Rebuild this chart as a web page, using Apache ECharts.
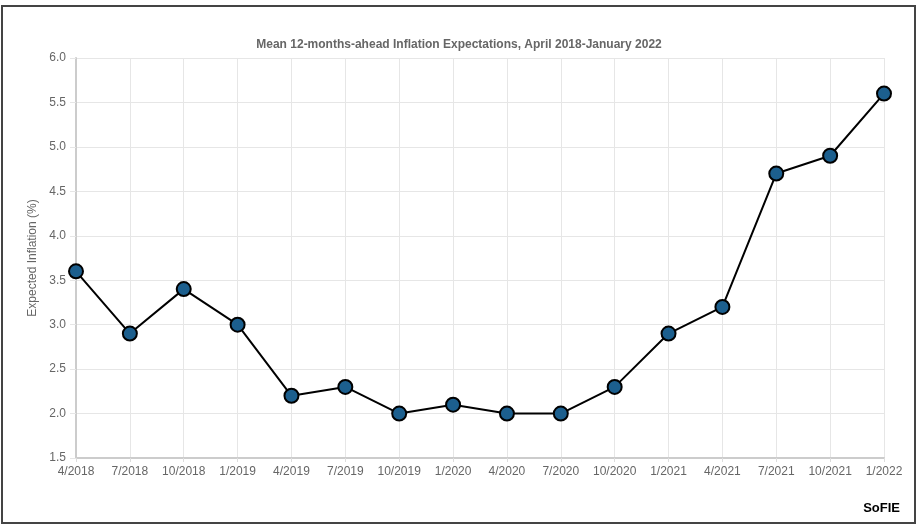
<!DOCTYPE html>
<html lang="en">
<head>
    <meta charset="UTF-8">
    <title>Mean 12-months-ahead Inflation Expectations</title>
    <script type="text/javascript" src="https://cdn.jsdelivr.net/npm/echarts@6/dist/echarts.min.js"></script>
    <style>
        html, body {
            margin: 0;
            padding: 0;
            background: #fff;
        }
        #frame {
            position: absolute;
            left: 1px;
            top: 5px;
            width: 911px;
            height: 515px;
            border: 2px solid #444;
        }
        #Echart1 {
            position: absolute;
            left: 0;
            top: 0;
            width: 918px;
            height: 526px;
        }
    </style>
</head>
<body>
<div id="frame"></div>
<div id="Echart1"></div>

<script>
    var quarters = ['4/2018', '7/2018', '10/2018', '1/2019', '4/2019', '7/2019', '10/2019', '1/2020',
        '4/2020', '7/2020', '10/2020', '1/2021', '4/2021', '7/2021', '10/2021', '1/2022'];
    var expected = [3.6, 2.9, 3.4, 3.0, 2.2, 2.3, 2.0, 2.1, 2.0, 2.0, 2.3, 2.9, 3.2, 4.7, 4.9, 5.6];
    var yMin = 1.5, yMax = 6.0, yStep = 0.5;

    var myChart = echarts.init(document.getElementById("Echart1"));
    var option = {
        animation: false,
        textStyle: {fontFamily: 'Liberation Sans, Arial, sans-serif'},
        title: {
            text: 'Mean 12-months-ahead Inflation Expectations, April 2018-January 2022',
            left: 'center',
            top: 34,
            textStyle: {color: '#666', fontSize: 12, fontWeight: 'bold'}
        },
        graphic: [{
            type: 'text',
            right: 18,
            top: 502,
            style: {
                text: 'SoFIE',
                fill: '#000',
                font: 'bold 13px Liberation Sans, Arial, sans-serif',
                shadowColor: 'rgba(0,0,0,0.5)',
                shadowBlur: 3,
                shadowOffsetX: 1,
                shadowOffsetY: 2
            }
        }],
        grid: {left: 76, right: 34, top: 58, bottom: 68},
        xAxis: {
            type: 'category',
            data: quarters,
            boundaryGap: false,
            axisLine: {lineStyle: {color: '#ccc', width: 2}},
            axisTick: {show: true, length: 4, lineStyle: {color: '#ddd'}},
            axisLabel: {color: '#666', fontSize: 12, margin: 8, interval: 0},
            splitLine: {show: true, lineStyle: {color: '#e6e6e6'}}
        },
        yAxis: {
            type: 'value',
            min: yMin,
            max: yMax,
            interval: yStep,
            name: 'Expected Inflation (%)',
            nameLocation: 'middle',
            nameGap: 37,
            nameTextStyle: {color: '#666', fontSize: 12},
            axisLine: {show: true, lineStyle: {color: '#ccc', width: 2}},
            axisTick: {show: true, length: 6, lineStyle: {color: '#e6e6e6'}},
            axisLabel: {
                color: '#666', fontSize: 12, margin: 10,
                formatter: function (v) { return v.toFixed(1); }
            },
            splitLine: {show: true, lineStyle: {color: '#e6e6e6'}}
        },
        series: [{
            type: 'line',
            data: expected,
            symbol: 'circle',
            symbolSize: 14,
            lineStyle: {color: '#000', width: 2},
            itemStyle: {color: '#1c5f8e', borderColor: '#000', borderWidth: 2}
        }]
    };
    myChart.setOption(option);
</script>
</body>
</html>
